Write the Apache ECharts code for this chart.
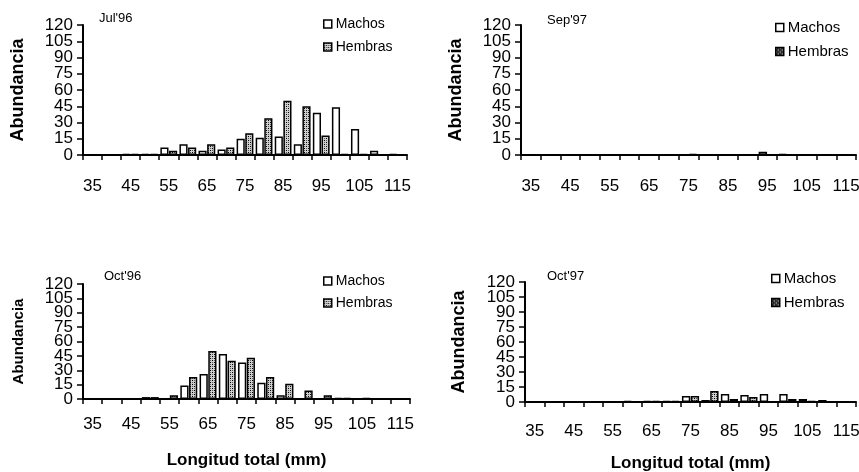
<!DOCTYPE html>
<html>
<head>
<meta charset="utf-8">
<script src="https://cdn.jsdelivr.net/npm/echarts@6/dist/echarts.min.js"></script>
<style>
html,body{margin:0;padding:0;background:#fff;}
#chart{width:859px;height:472px;}
</style>
</head>
<body>
<div id="chart"></div>
<script>
// ---- data ----
const lengths = ['35','40','45','50','55','60','65','70','75','80','85','90','95','100','105','110','115'];
const yTicks = [0,15,30,45,60,75,90,105,120];

const jul96Machos  = [0,0,1,1,7,10,4,5,15,16,17,10,39,44,24,4,1];
const jul96Hembras = [0,0,1,1,4,7,10,7,20,34,50,45,18,1,1,0,0];

const sep97Machos  = [0,0,0,0,0,0,0,0,0,0,0,0,3,1,0,0,0];
const sep97Hembras = [0,0,0,0,0,0,0,0,1,0,0,0,0,0,0,0,0];

const oct96Machos  = [0,0,0,2,0,14,26,47,38,17,4,0,0,1,0,0,0];
const oct96Hembras = [0,0,0,2,4,23,50,40,43,23,16,9,4,1,1,0,0];

const oct97Machos  = [0,0,0,0,0,1,1,1,6,2,8,7,8,8,3,2,0];
const oct97Hembras = [0,0,0,0,0,0,1,1,6,11,3,5,0,3,1,0,0];

const panelTitles = ["Jul'96", "Sep'97", "Oct'96", "Oct'97"];
const seriesNames = ['Machos', 'Hembras'];
const yName = 'Abundancia';
const xName = 'Longitud total (mm)';

// ---- patterns ----
function makePattern(bg, dot, mid) {
  const c = document.createElement('canvas');
  c.width = 4; c.height = 4;
  const ctx = c.getContext('2d');
  ctx.fillStyle = bg; ctx.fillRect(0,0,4,4);
  ctx.fillStyle = dot; ctx.fillRect(0,0,1,1); ctx.fillRect(2,2,1,1);
  ctx.fillStyle = mid; ctx.fillRect(2,0,1,1); ctx.fillRect(0,2,1,1);
  return { image: c, repeat: 'repeat' };
}
const hatch = makePattern('#cfcfcf', '#000', '#555');
const hatchDark = makePattern('#222', '#fff', '#555');

// ---- layout per panel ----
const panels = [
  { title: panelTitles[0], m: jul96Machos, h: jul96Hembras,
    grid: {left:83, top:25, width:324, height:130}, titlePos: {left:99, top:12},
    legend: {left:323, top:17, gap:9, font:14, dark:false}, xName:false, yNameSize:18, yGap:56, xMargin:23 },
  { title: panelTitles[1], m: sep97Machos, h: sep97Hembras,
    grid: {left:521, top:25, width:335, height:130}, titlePos: {left:547, top:14},
    legend: {left:775, top:20, gap:9, font:15, dark:true}, xName:false, yNameSize:18, yGap:56, xMargin:23 },
  { title: panelTitles[2], m: oct96Machos, h: oct96Hembras,
    grid: {left:83, top:284, width:327, height:115}, titlePos: {left:104, top:270},
    legend: {left:323, top:274, gap:8, font:14, dark:false}, xName:true, yNameSize:15, yGap:57, xMargin:17 },
  { title: panelTitles[3], m: oct97Machos, h: oct97Hembras,
    grid: {left:525, top:282, width:331, height:120}, titlePos: {left:547, top:270},
    legend: {left:771, top:271, gap:9, font:15, dark:true}, xName:true, yNameSize:18, yGap:57, xMargin:21 }
];

const FONT = 'Liberation Sans, Arial, sans-serif';
const option = {
  animation: false,
  backgroundColor: '#fff',
  title: [], grid: [], xAxis: [], yAxis: [], legend: [], series: []
};

panels.forEach((p, i) => {
  option.title.push({
    text: p.title, left: p.titlePos.left, top: p.titlePos.top, padding: 0,
    textStyle: { fontSize: 13, fontWeight: 'normal', color: '#000', fontFamily: FONT }
  });
  option.grid.push(Object.assign({ containLabel: false, outerBoundsMode: 'none' }, p.grid));
  option.xAxis.push({
    type: 'category', gridIndex: i, data: lengths,
    boundaryGap: true,
    name: p.xName ? xName : '', nameLocation: 'middle', nameGap: 53,
    nameTextStyle: { fontSize: 17, fontWeight: 'bold', color: '#000', fontFamily: FONT },
    axisLine: { show: true, lineStyle: { color: '#000', width: 2 } },
    axisTick: { show: true, interval: 0, length: 5, lineStyle: { color: '#000', width: 1.5 } },
    axisLabel: { interval: 1, margin: p.xMargin, fontSize: 17, color: '#000', fontFamily: FONT },
    splitLine: { show: false }
  });
  // main y axis: labels at multiples of 30
  option.yAxis.push({
    type: 'value', gridIndex: i, min: 0, max: 120, interval: 30,
    name: yName, nameLocation: 'middle', nameGap: p.yGap, nameRotate: 90,
    nameTextStyle: { fontSize: p.yNameSize, fontWeight: 'bold', color: '#000', fontFamily: FONT },
    axisLine: { show: true, lineStyle: { color: '#000', width: 2 } },
    axisTick: { show: true, length: 6, lineStyle: { color: '#000', width: 1.5 } },
    axisLabel: { margin: 10, fontSize: 17, color: '#000', fontFamily: FONT,
      showMinLabel: true, showMaxLabel: true,
      formatter: v => yTicks.indexOf(v) >= 0 ? String(v) : '' },
    splitLine: { show: false }
  });
  // companion y axis: intermediate labels (15, 45, 75, 105)
  option.yAxis.push({
    type: 'value', gridIndex: i, min: 0, max: 120, interval: 15, position: 'left', offset: 0,
    axisLine: { show: false },
    axisTick: { show: true, length: 6, lineStyle: { color: '#000', width: 1.5 } },
    axisLabel: { margin: 10, fontSize: 17, color: '#000', fontFamily: FONT,
      showMinLabel: false, showMaxLabel: false,
      formatter: v => (yTicks.indexOf(v) >= 0 && v % 30 !== 0) ? String(v) : '' },
    splitLine: { show: false }
  });
  const mName = seriesNames[0] + ' ' + (i+1);
  const hName = seriesNames[1] + ' ' + (i+1);
  option.legend.push({
    orient: 'vertical', left: p.legend.left, top: p.legend.top, padding: 0,
    itemGap: p.legend.gap, itemWidth: 8, itemHeight: 8, icon: 'rect',
    selectedMode: false,
    formatter: n => n.split(' ')[0],
    textStyle: { fontSize: p.legend.font, color: '#000', fontFamily: FONT, padding: [0,0,0,-1] },
    data: [
      { name: mName, itemStyle: { color: '#fff', borderColor: '#000', borderWidth: 1.5 } },
      { name: hName, itemStyle: { color: p.legend.dark ? hatchDark : hatch, borderColor: '#000', borderWidth: 1.5 } }
    ]
  });
  option.series.push({
    name: mName, type: 'bar', xAxisIndex: i, yAxisIndex: 2*i, data: p.m,
    barCategoryGap: '12%', barGap: '6%',
    itemStyle: { color: '#fff', borderColor: '#000', borderWidth: 1.5 },
    emphasis: { disabled: true }
  });
  option.series.push({
    name: hName, type: 'bar', xAxisIndex: i, yAxisIndex: 2*i, data: p.h,
    barCategoryGap: '12%', barGap: '6%',
    itemStyle: { color: hatch, borderColor: '#000', borderWidth: 1.5 },
    emphasis: { disabled: true }
  });
});

const chart = echarts.init(document.getElementById('chart'), null, { renderer: 'canvas' });
chart.setOption(option);
</script>
</body>
</html>
